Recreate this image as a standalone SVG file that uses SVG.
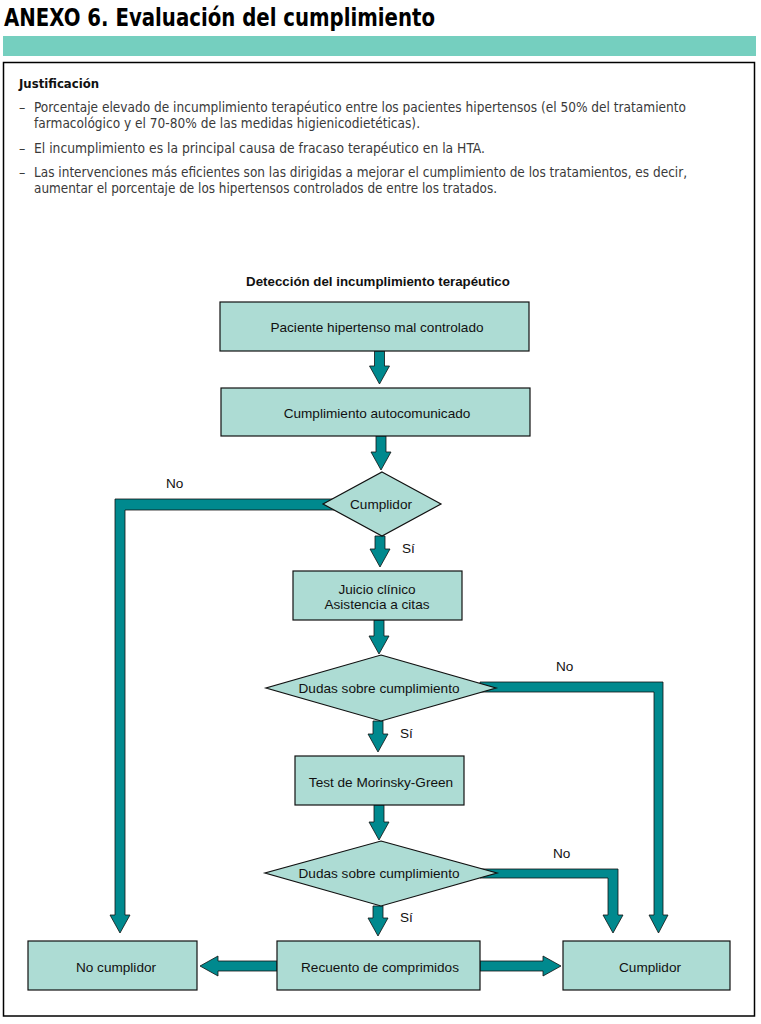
<svg xmlns="http://www.w3.org/2000/svg" width="761" height="1024" viewBox="0 0 761 1024">
<style>
.title{font-family:"Liberation Sans Narrow","DejaVu Sans Condensed","Liberation Sans",sans-serif;font-weight:bold;font-size:25px;fill:#000}
.head{font-family:"Liberation Sans Narrow","DejaVu Sans Condensed","Liberation Sans",sans-serif;font-weight:bold;font-size:13px;fill:#111}
.body{font-family:"Liberation Sans Narrow","DejaVu Sans Condensed","Liberation Sans",sans-serif;font-size:14px;fill:#3a3a3a}
.lbl{font-family:"Liberation Sans",Arial,sans-serif;font-size:13.6px;fill:#111}
.ttl{font-family:"Liberation Sans",Arial,sans-serif;font-size:13.3px;font-weight:bold;fill:#111}
.node{fill:#addcd4;stroke:#111;stroke-width:1.2}
.arr{fill:#00898e;stroke:#111;stroke-width:0.8;stroke-linejoin:miter}
.ctr{text-anchor:middle}
</style>
<rect width="761" height="1024" fill="#fff"/>
<text class="title" x="4" y="26" textLength="431" lengthAdjust="spacingAndGlyphs">ANEXO 6. Evaluación del cumplimiento</text>
<rect x="3" y="36" width="753" height="20" fill="#75cfbf"/>
<rect x="3.5" y="62.5" width="751" height="953.5" fill="none" stroke="#000" stroke-width="1.5"/>
<g id="justificacion">
<text class="head" x="19" y="88" textLength="80" lengthAdjust="spacingAndGlyphs">Justificación</text>
<text class="body" x="19" y="112">–</text>
<text class="body" x="34" y="112" textLength="652" lengthAdjust="spacingAndGlyphs">Porcentaje elevado de incumplimiento terapéutico entre los pacientes hipertensos (el 50% del tratamiento</text>
<text class="body" x="34" y="128" textLength="386" lengthAdjust="spacingAndGlyphs">farmacológico y el 70-80% de las medidas higienicodietéticas).</text>
<text class="body" x="19" y="153">–</text>
<text class="body" x="34" y="153" textLength="451" lengthAdjust="spacingAndGlyphs">El incumplimiento es la principal causa de fracaso terapéutico en la HTA.</text>
<text class="body" x="19" y="177">–</text>
<text class="body" x="34" y="177" textLength="653" lengthAdjust="spacingAndGlyphs">Las intervenciones más eficientes son las dirigidas a mejorar el cumplimiento de los tratamientos, es decir,</text>
<text class="body" x="34" y="193" textLength="463" lengthAdjust="spacingAndGlyphs">aumentar el porcentaje de los hipertensos controlados de entre los tratados.</text>
</g>
<text class="ttl ctr" x="378" y="286">Detección del incumplimiento terapéutico</text>
<g id="connectors">
<polygon class="arr" points="374.5,351 384.5,351 384.5,366 389.5,366 379.5,384 369.5,366 374.5,366"/>
<polygon class="arr" points="376,436 386,436 386,452 391,452 381,470 371,452 376,452"/>
<polygon class="arr" points="375,536 385,536 385,549 390,549 380,567 370,549 375,549"/>
<polygon class="arr" points="374,620 384,620 384,636 389,636 379,654 369,636 374,636"/>
<polygon class="arr" points="373,721 383,721 383,734 388,734 378,752 368,734 373,734"/>
<polygon class="arr" points="374,805 384,805 384,822 389,822 379,840 369,822 374,822"/>
<polygon class="arr" points="373,906 383,906 383,918 388,918 378,936 368,918 373,918"/>
<polygon class="arr" points="335,499 115,499 115,915 110,915 120,933 130,915 125,915 125,510 335,510"/>
<polygon class="arr" points="480,682 663,682 663,915 668,915 658.5,933 649,915 654,915 654,692 480,692"/>
<polygon class="arr" points="480,869 618,869 618,915 623,915 613,933 603,915 608,915 608,878 480,878"/>
<polygon class="arr" points="277,961 218,961 218,956 200,966 218,976 218,971 277,971"/>
<polygon class="arr" points="480,961 543,961 543,956 561,966 543,976 543,971 480,971"/>
</g>
<g id="n1"><rect class="node" x="220" y="302" width="309" height="49"/><text class="lbl ctr" x="377" y="332">Paciente hipertenso mal controlado</text></g>
<g id="n2"><rect class="node" x="221" y="388" width="309" height="48"/><text class="lbl ctr" x="377" y="418">Cumplimiento autocomunicado</text></g>
<g id="d1"><polygon class="node" points="382,472 441,504 382,536 323,504"/><text class="lbl ctr" x="381" y="509">Cumplidor</text></g>
<g id="n3"><rect class="node" x="293" y="571" width="169" height="49"/><text class="lbl ctr" x="377" y="594">Juicio clínico</text><text class="lbl ctr" x="377" y="609">Asistencia a citas</text></g>
<g id="d2"><polygon class="node" points="381,655 496,688 381,721 266,688"/><text class="lbl ctr" x="379" y="693">Dudas sobre cumplimiento</text></g>
<g id="n4"><rect class="node" x="295" y="756" width="169" height="49"/><text class="lbl ctr" x="381" y="787">Test de Morinsky-Green</text></g>
<g id="d3"><polygon class="node" points="381,841 497,873 381,906 265,873"/><text class="lbl ctr" x="379" y="878">Dudas sobre cumplimiento</text></g>
<g id="n5"><rect class="node" x="28" y="941" width="169" height="49"/><text class="lbl ctr" x="116" y="972">No cumplidor</text></g>
<g id="n6"><rect class="node" x="277" y="941" width="203" height="49"/><text class="lbl ctr" x="380" y="972">Recuento de comprimidos</text></g>
<g id="n7"><rect class="node" x="563" y="941" width="167" height="49"/><text class="lbl ctr" x="650" y="972">Cumplidor</text></g>
<g id="labels">
<text class="lbl" x="166" y="488">No</text>
<text class="lbl" x="402" y="553">Sí</text>
<text class="lbl" x="556" y="671">No</text>
<text class="lbl" x="400" y="738">Sí</text>
<text class="lbl" x="553" y="858">No</text>
<text class="lbl" x="400" y="922">Sí</text>
</g>
</svg>
